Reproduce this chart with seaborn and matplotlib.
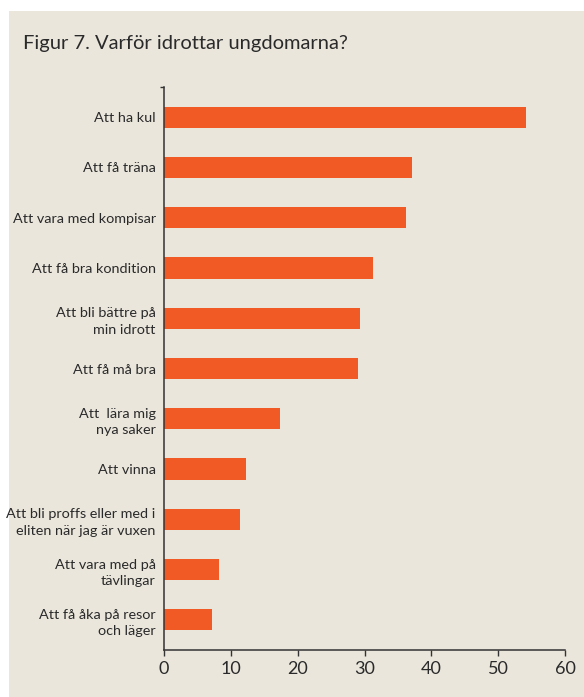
import matplotlib
matplotlib.use("Agg")
import matplotlib.pyplot as plt
import matplotlib.patches as mpatches
import seaborn as sns
import pandas as pd

# data
reasons = [
    "Att ha kul",
    "Att få träna",
    "Att vara med kompisar",
    "Att få bra kondition",
    "Att bli bättre på\nmin idrott",
    "Att få må bra",
    "Att  lära mig\nnya saker",
    "Att vinna",
    "Att bli proffs eller med i\neliten när jag är vuxen",
    "Att vara med på\ntävlingar",
    "Att få åka på resor\noch läger",
]
percent = [54.1, 37.1, 36.2, 31.2, 29.3, 29.1, 17.3, 12.3, 11.4, 8.2, 7.2]
x_ticks = [0, 10, 20, 30, 40, 50, 60]

bg = "#eae6dc"
bar_color = "#f15a24"
text_color = "#2a2a2a"

sns.set_theme(style="white")
plt.rcParams["font.family"] = ["Lato", "DejaVu Sans"]

df = pd.DataFrame({"reason": reasons, "percent": percent})

fig = plt.figure(figsize=(5.84, 6.97), dpi=100)
fig.patch.set_facecolor("white")
fig.patches.append(mpatches.Rectangle((9 / 584, 0), 1, 686 / 697, transform=fig.transFigure,
                                      facecolor=bg, edgecolor="none", zorder=-1))

ax = fig.add_axes([164 / 584, 47 / 697, (565 - 164) / 584, (650 - 87) / 697])
ax.set_facecolor(bg)
sns.barplot(data=df, x="percent", y="reason", color=bar_color, width=0.42,
            saturation=1, linewidth=0, ax=ax)

ax.set_xlim(0, 60)
ax.set_ylim(10.6, -0.6)
ax.set_xticks(x_ticks)
ax.set_xlabel("")
ax.set_ylabel("")
for side in ["top", "right"]:
    ax.spines[side].set_visible(False)
for side in ["left", "bottom"]:
    ax.spines[side].set_color("#333333")
    ax.spines[side].set_linewidth(1.1)

ax.tick_params(axis="x", bottom=True, length=4, width=1, color="#333333",
               labelsize=13, labelcolor=text_color, pad=4)
ax.tick_params(axis="y", left=False, length=0, labelsize=10.4, labelcolor=text_color, pad=6)
ax.set_yticks([-0.6], minor=True)
ax.tick_params(axis="y", which="minor", left=True, length=3, width=1, color="#333333")
for lbl in ax.get_yticklabels():
    lbl.set_horizontalalignment("right")
    lbl.set_multialignment("right")
    lbl.set_linespacing(1.45)

fig.text(23 / 584, 1 - 44 / 697, "Figur 7. Varför idrottar ungdomarna?", fontsize=14.5,
         color=text_color, ha="left", va="center")

fig.savefig("out.png", dpi=100, facecolor=fig.get_facecolor())
